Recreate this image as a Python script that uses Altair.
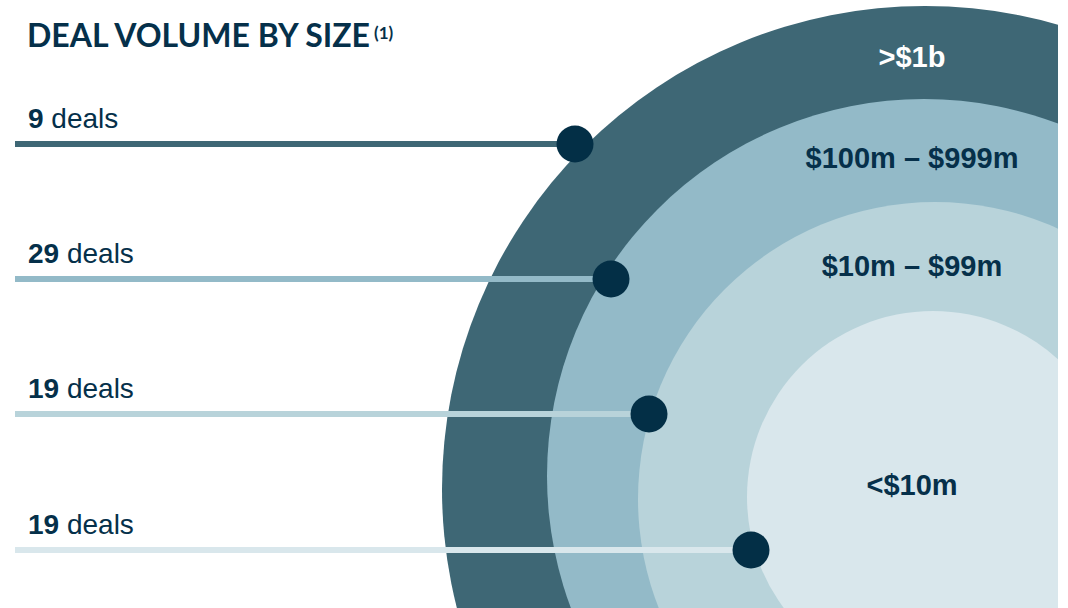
import math
import altair as alt
import pandas as pd

# ---- data ----
categories = [">$1b", "$100m – $999m", "$10m – $99m", "<$10m"]
deal_counts = [9, 29, 19, 19]
title_text = "DEAL VOLUME BY SIZE"
title_note = "(1)"
deal_word = "deals"

# ---- styles ----
ring_colors = ["#3e6775", "#93bac8", "#b8d3da", "#d9e7ec"]
label_colors = ["#ffffff", "#06304a", "#06304a", "#06304a"]
navy = "#05304a"
dot_color = "#032f46"

# ---- layout (pixel geometry of the infographic) ----
W, H = 1058, 608
ring_cx = [925, 924, 935, 933]
ring_cy = [489, 476, 499, 497]
ring_r = [483, 377, 297, 186]
row_y = [144, 279, 414, 550]
dot_x = [575, 611, 649, 751]
label_y = [67, 168, 276, 495]
label_x = 912
line_x0 = 15
text_x0 = 28
num_size = 28
digit_w = 0.556 * num_size
space_w = 0.278 * num_size

rows = []
for i, cat in enumerate(categories):
    n = deal_counts[i]
    rows.append({
        "order": i,
        "category": cat,
        "deals": str(n),
        "word": deal_word,
        "cx": ring_cx[i], "cy": ring_cy[i], "r": ring_r[i],
        "ry": row_y[i], "dx": dot_x[i], "x0": line_x0,
        "tx": text_x0, "ty": row_y[i] - 16,
        "wx": text_x0 + len(str(n)) * digit_w + space_w,
        "lx": label_x, "ly": label_y[i],
        "lcolor": label_colors[i],
    })
df = pd.DataFrame(rows)

xs = alt.Scale(domain=[0, W], range=[0, W], nice=False, zero=False)
ys = alt.Scale(domain=[0, H], reverse=True, nice=False, zero=False)
cscale = alt.Scale(domain=categories, range=ring_colors)

base = alt.Chart(df)

rings = base.mark_arc(clip=True, theta=0, theta2=2 * math.pi, strokeWidth=0).encode(
    x=alt.X("cx:Q", scale=xs, axis=None),
    y=alt.Y("cy:Q", scale=ys, axis=None),
    radius=alt.Radius("r:Q", stack=None,
                      scale=alt.Scale(type="linear", domain=[0, W], range=[0, W], zero=True)),
    fill=alt.Fill("category:N", scale=cscale, legend=None),
)

lines = base.mark_rule(strokeWidth=6, strokeCap="butt").encode(
    x=alt.X("x0:Q", scale=xs, axis=None),
    x2="dx:Q",
    y=alt.Y("ry:Q", scale=ys, axis=None),
    color=alt.Color("category:N", scale=cscale, legend=None),
)

dots = base.mark_circle(size=37 * 37, opacity=1, color=dot_color).encode(
    x=alt.X("dx:Q", scale=xs, axis=None),
    y=alt.Y("ry:Q", scale=ys, axis=None),
)

nums = base.mark_text(align="left", baseline="alphabetic", font="Liberation Sans",
                      fontSize=num_size, fontWeight="bold", color=navy).encode(
    x=alt.X("tx:Q", scale=xs, axis=None),
    y=alt.Y("ty:Q", scale=ys, axis=None),
    text="deals:N",
)

words = base.mark_text(align="left", baseline="alphabetic", font="Liberation Sans",
                       fontSize=num_size, fontWeight="normal", color=navy).encode(
    x=alt.X("wx:Q", scale=xs, axis=None),
    y=alt.Y("ty:Q", scale=ys, axis=None),
    text="word:N",
)

labels = base.mark_text(align="center", baseline="alphabetic", font="Liberation Sans",
                        fontSize=29, fontWeight="bold").encode(
    x=alt.X("lx:Q", scale=xs, axis=None),
    y=alt.Y("ly:Q", scale=ys, axis=None),
    text="category:N",
    color=alt.Color("lcolor:N", scale=None, legend=None),
)

tdf = pd.DataFrame([{"t": title_text, "x": 27, "y": 47}])
ndf = pd.DataFrame([{"t": title_note, "x": 374, "y": 39}])
title = alt.Chart(tdf).mark_text(align="left", baseline="alphabetic", font="Lato",
                                 fontSize=32, fontWeight="bold", color=navy).encode(
    x=alt.X("x:Q", scale=xs, axis=None), y=alt.Y("y:Q", scale=ys, axis=None), text="t:N")
note = alt.Chart(ndf).mark_text(align="left", baseline="alphabetic", font="Lato",
                                fontSize=17, fontWeight="bold", color=navy).encode(
    x=alt.X("x:Q", scale=xs, axis=None), y=alt.Y("y:Q", scale=ys, axis=None), text="t:N")

chart = alt.layer(rings, lines, dots, nums, words, labels, title, note).properties(
    width=W, height=H, autosize="none",
    padding={"left": 0, "top": 0, "right": 10, "bottom": 0},
    background="white",
).configure_view(stroke=None)

chart.save("out.html", embed_options={"renderer": "svg", "actions": False})
